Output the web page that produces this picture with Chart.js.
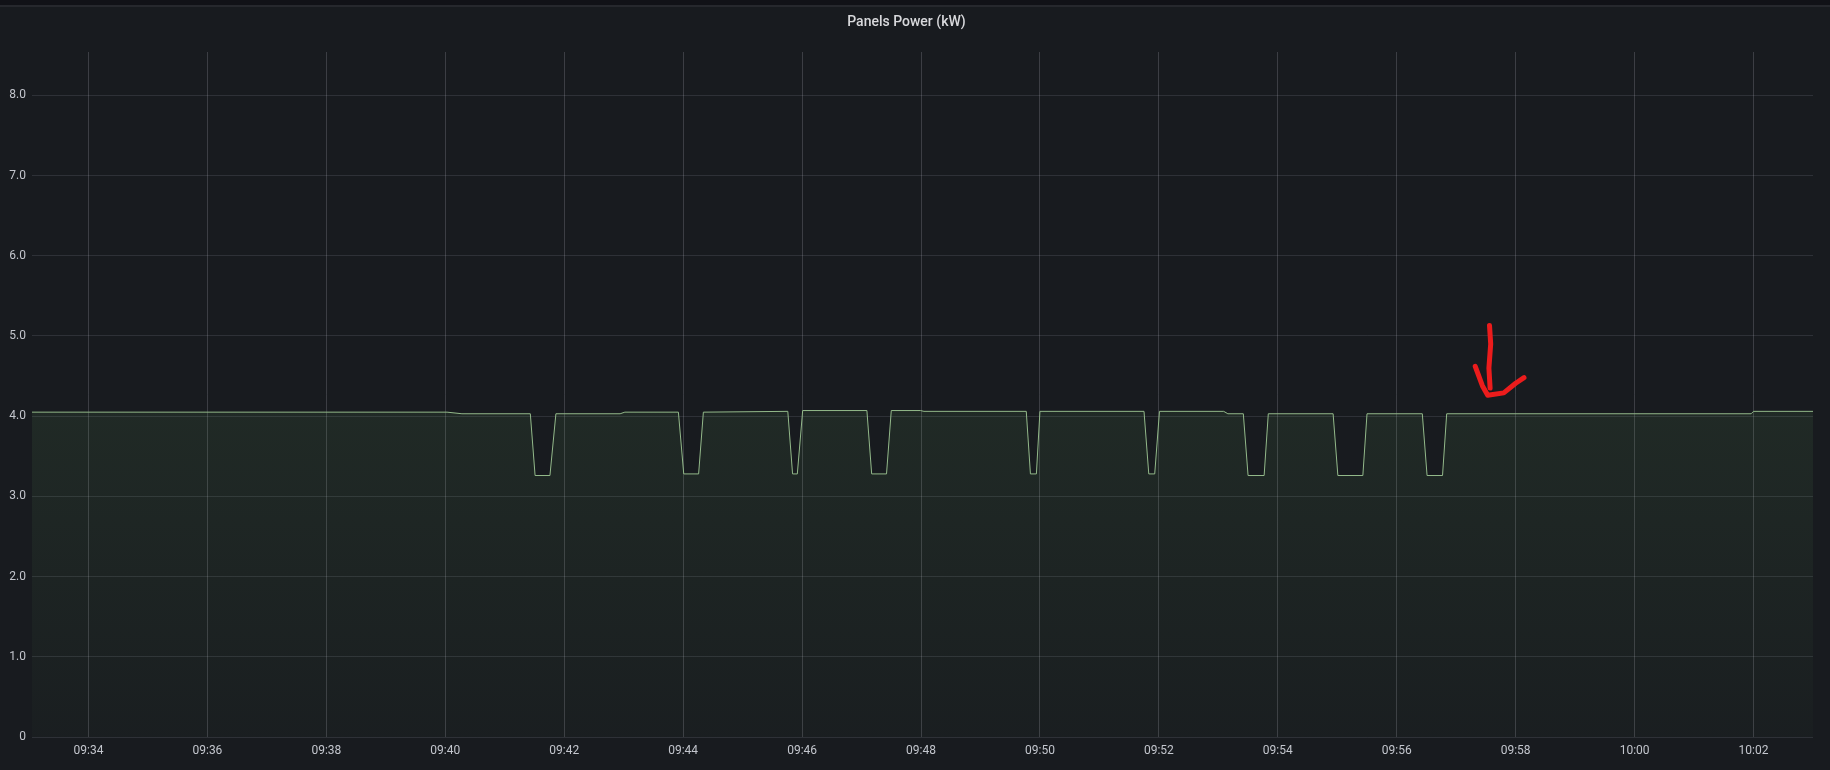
<!DOCTYPE html>
<html>
<head>
<meta charset="utf-8">
<script src="https://cdn.jsdelivr.net/npm/chart.js@4/dist/chart.umd.min.js"></script>
<style>
  html, body { margin: 0; padding: 0; background: #111217; }
  #wrap { width: 1830px; height: 770px; position: relative; }
</style>
</head>
<body>
<div id="wrap"><canvas id="powerChart"></canvas></div>
<script>
// time in minutes after 09:00, power in kW
const minutes = [
  33.05, 40.03, 40.28, 41.43, 41.51, 41.76, 41.86, 42.94, 43.02,
  43.92, 44.01, 44.26, 44.34, 45.76, 45.84, 45.92, 46.01,
  47.09, 47.17, 47.42, 47.50, 47.99, 48.05, 49.77, 49.84, 49.94, 50.00,
  51.75, 51.83, 51.93, 52.01, 53.09, 53.16, 53.42, 53.50, 53.77, 53.84,
  54.93, 55.01, 55.43, 55.50, 56.43, 56.51, 56.77, 56.84,
  61.96, 62.00, 63.00
];
const power = [
  4.05, 4.05, 4.03, 4.03, 3.26, 3.26, 4.03, 4.03, 4.05,
  4.05, 3.28, 3.28, 4.05, 4.06, 3.28, 3.28, 4.07,
  4.07, 3.28, 3.28, 4.07, 4.07, 4.06, 4.06, 3.28, 3.28, 4.06,
  4.06, 3.28, 3.28, 4.06, 4.06, 4.03, 4.03, 3.26, 3.26, 4.03,
  4.03, 3.26, 3.26, 4.03, 4.03, 3.26, 3.26, 4.03,
  4.03, 4.06, 4.06
];

const tickMinutes = [34, 36, 38, 40, 42, 44, 46, 48, 50, 52, 54, 56, 58, 60, 62];
const tickLabels = ["09:34", "09:36", "09:38", "09:40", "09:42", "09:44", "09:46", "09:48",
                    "09:50", "09:52", "09:54", "09:56", "09:58", "10:00", "10:02"];
const yTicks = [0, 1, 2, 3, 4, 5, 6, 7, 8];

// hand drawn red arrow, in data coords (minutes, kW)
const arrowShaft = [[57.56, 5.13], [57.58, 4.9], [57.55, 4.6], [57.57, 4.35]];
const arrowHead = [[57.32, 4.62], [57.44, 4.38], [57.53, 4.26], [57.80, 4.29], [58.00, 4.41], [58.14, 4.48]];

const panelBg = {
    id: "panelBg",
    beforeDraw(chart) {
        const ctx = chart.ctx;
        ctx.save();
        ctx.fillStyle = "#181b1f";
        ctx.fillRect(0, 0, chart.width, chart.height);
        ctx.fillStyle = "#111217";
        ctx.fillRect(0, 0, chart.width, 5);
        ctx.fillStyle = "rgba(204,204,220,0.08)";
        ctx.fillRect(0, 5, chart.width, 2);
        ctx.restore();
    }
};

const redArrow = {
    id: "redArrow",
    afterDatasetsDraw(chart) {
        const ctx = chart.ctx;
        const xs = chart.scales.x, ys = chart.scales.y;
        ctx.save();
        ctx.strokeStyle = "#ec1c1c";
        ctx.lineWidth = 5;
        ctx.lineCap = "round";
        ctx.lineJoin = "round";
        [arrowShaft, arrowHead].forEach(stroke => {
            ctx.beginPath();
            stroke.forEach((p, i) => {
                const px = xs.getPixelForValue(p[0]);
                const py = ys.getPixelForValue(p[1]);
                if (i === 0) ctx.moveTo(px, py); else ctx.lineTo(px, py);
            });
            ctx.stroke();
        });
        ctx.restore();
    }
};

function fillGradient(context) {
    const area = context.chart.chartArea;
    if (!area) return "rgba(115,191,105,0.08)";
    const g = context.chart.ctx.createLinearGradient(0, area.top, 0, area.bottom);
    g.addColorStop(0, "rgba(115,191,105,0.13)");
    g.addColorStop(0.45, "rgba(115,191,105,0.10)");
    g.addColorStop(1, "rgba(115,191,105,0.02)");
    return g;
}

new Chart(document.getElementById("powerChart"), {
    type: "line",
    data: {
        datasets: [{
            label: "Panels Power",
            data: minutes.map((m, i) => ({ x: m, y: power[i] })),
            borderColor: "#93b98a",
            borderWidth: 1,
            backgroundColor: fillGradient,
            fill: "origin",
            pointRadius: 0,
            tension: 0
        }]
    },
    options: {
        responsive: true,
        maintainAspectRatio: false,
        animation: false,
        layout: { padding: { left: 0, right: 17, top: 0, bottom: 0 } },
        plugins: {
            legend: { display: false },
            tooltip: { enabled: false },
            title: {
                display: true,
                text: "Panels Power (kW)",
                color: "#d8d9dc",
                font: { family: "Roboto", size: 14, weight: "500" },
                padding: { top: 14, bottom: 21.2 }
            }
        },
        scales: {
            x: {
                type: "linear",
                min: 33.05,
                max: 63.0,
                afterBuildTicks: s => { s.ticks = tickMinutes.map(v => ({ value: v })); },
                afterFit: s => { s.height = 33; },
                grid: { color: "rgba(204,204,220,0.2)", drawTicks: false },
                border: { display: false },
                ticks: {
                    color: "#c3c6cd",
                    font: { family: "Roboto", size: 12 },
                    padding: 7,
                    maxRotation: 0,
                    autoSkip: false,
                    callback: v => tickLabels[tickMinutes.indexOf(v)] ?? ""
                }
            },
            y: {
                min: 0,
                max: 8.54,
                afterBuildTicks: s => { s.ticks = yTicks.map(v => ({ value: v })); },
                afterFit: s => { s.width = 32; },
                grid: { color: "rgba(204,204,220,0.13)", drawTicks: false },
                border: { display: false },
                ticks: {
                    color: "#c3c6cd",
                    font: { family: "Roboto", size: 12 },
                    padding: 6,
                    callback: v => v === 0 ? "0" : v.toFixed(1)
                }
            }
        }
    },
    plugins: [panelBg, redArrow]
});
</script>
</body>
</html>
